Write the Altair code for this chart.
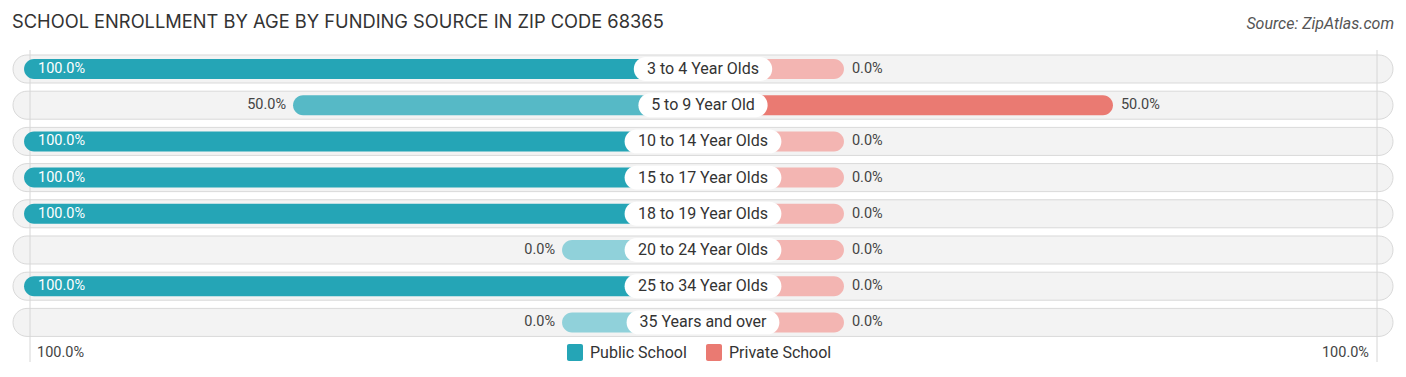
import altair as alt
import pandas as pd

# ---- data ----
ages = ["3 to 4 Year Olds", "5 to 9 Year Old", "10 to 14 Year Olds", "15 to 17 Year Olds",
        "18 to 19 Year Olds", "20 to 24 Year Olds", "25 to 34 Year Olds", "35 Years and over"]
public = [100.0, 50.0, 100.0, 100.0, 100.0, 0.0, 100.0, 0.0]
private = [0.0, 50.0, 0.0, 0.0, 0.0, 0.0, 0.0, 0.0]
legend_labels = ["Public School", "Private School"]
axis_label = "100.0%"
title_text = "SCHOOL ENROLLMENT BY AGE BY FUNDING SOURCE IN ZIP CODE 68365"
source_text = "Source: ZipAtlas.com"

# ---- layout constants ----
W, H = 1390, 361
K = 5.38          # px per percent
OFF = 26.2        # minimum bar stub (in percent units) hidden behind the label pill
XMAX = W / 2 / K
ROW_PX = 36.2
Y0 = -61 / ROW_PX
Y1 = Y0 + H / ROW_PX

PUB_COLORS = ["#90d1da", "#56b9c6", "#25a5b6"]
PRIV_COLORS = ["#f3b5b2", "#ea7a72", "#e0584f"]
FONT = "Roboto"


def pill_half(s):
    spaces = s.count(" ")
    w = 9.2 * (len(s) - spaces) + 4 * spaces + 12
    return w / 2 / K


df = pd.DataFrame({"age": ages, "pub": public, "priv": private})
df["row"] = range(len(ages))
df["ph"] = [pill_half(a) for a in ages]

xs = alt.Scale(domain=[-XMAX, XMAX], nice=False, zero=False)
ys = alt.Scale(domain=[Y0, Y1], nice=False, zero=False, reverse=True)

base = alt.Chart(df).transform_calculate(
    pub_end=f"-({OFF} + datum.pub)",
    priv_end=f"{OFF} + datum.priv",
    zero="0",
    bg0="datum.row - 0.387",
    bg1="datum.row + 0.387",
    b0="datum.row - 0.276",
    b1="datum.row + 0.276",
    p0="datum.row - 0.33",
    p1="datum.row + 0.33",
    pl="-datum.ph",
    pr="datum.ph",
    pub_in=f"datum.pub_end + {14 / K}",
    pub_out=f"datum.pub_end - {7 / K}",
    priv_out=f"datum.priv_end + {8 / K}",
    pub_lbl="format(datum.pub, '.1f') + '%'",
    priv_lbl="format(datum.priv, '.1f') + '%'",
)

bg = base.mark_bar(cornerRadius=14, fill="#f3f3f3", stroke="#d9d9d9", strokeWidth=1).encode(
    x=alt.value(5), x2=alt.value(1385),
    y=alt.Y("bg0:Q", scale=ys, axis=None), y2="bg1:Q",
)

vlines = alt.Chart(pd.DataFrame({"a": [0, 1]})).mark_rule(color="#d6d6d6", strokeWidth=1).encode(
    x=alt.X("a:Q", scale=alt.Scale(domain=[0, 1], range=[22, 1369]), axis=None),
    y=alt.value(42), y2=alt.value(354),
)

pub_bar = base.mark_bar(cornerRadius=10).encode(
    x=alt.X("pub_end:Q", scale=xs, axis=None), x2="zero:Q",
    y=alt.Y("b0:Q", scale=ys, axis=None), y2="b1:Q",
    color=alt.Color("pub:Q", scale=alt.Scale(domain=[0, 50, 100], range=PUB_COLORS), legend=None),
)

priv_bar = base.mark_bar(cornerRadius=10).encode(
    x=alt.X("zero:Q", scale=xs, axis=None), x2="priv_end:Q",
    y=alt.Y("b0:Q", scale=ys, axis=None), y2="b1:Q",
    fill=alt.Fill("priv:Q", scale=alt.Scale(domain=[0, 50, 100], range=PRIV_COLORS), legend=None),
)

pill = base.mark_bar(cornerRadius=12, fill="white").encode(
    x=alt.X("pl:Q", scale=xs, axis=None), x2="pr:Q",
    y=alt.Y("p0:Q", scale=ys, axis=None), y2="p1:Q",
)

age_txt = base.mark_text(font=FONT, fontSize=16, color="#333333", align="center", baseline="middle").encode(
    x=alt.X("zero:Q", scale=xs, axis=None),
    y=alt.Y("row:Q", scale=ys, axis=None),
    text="age:N",
)

pub_in_txt = base.transform_filter("datum.pub >= 90").mark_text(
    font=FONT, fontSize=14.5, color="white", align="left", baseline="middle").encode(
    x=alt.X("pub_in:Q", scale=xs, axis=None),
    y=alt.Y("row:Q", scale=ys, axis=None),
    text="pub_lbl:N",
)

pub_out_txt = base.transform_filter("datum.pub < 90").mark_text(
    font=FONT, fontSize=14.5, color="#444444", align="right", baseline="middle").encode(
    x=alt.X("pub_out:Q", scale=xs, axis=None),
    y=alt.Y("row:Q", scale=ys, axis=None),
    text="pub_lbl:N",
)

priv_txt = base.mark_text(font=FONT, fontSize=14.5, color="#444444", align="left", baseline="middle").encode(
    x=alt.X("priv_out:Q", scale=xs, axis=None),
    y=alt.Y("row:Q", scale=ys, axis=None),
    text="priv_lbl:N",
)

one = pd.DataFrame({"t": [0]})
title = alt.Chart(one).mark_text(font="Inter", fontSize=18.3, color="#333333", align="left",
                                 baseline="middle", text=title_text).encode(
    x=alt.value(4), y=alt.value(15))
source = alt.Chart(one).mark_text(font=FONT, fontSize=16, fontStyle="italic", color="#555555",
                                  align="right", baseline="middle", text=source_text).encode(
    x=alt.value(1386), y=alt.value(16))

axl = alt.Chart(one).mark_text(font=FONT, fontSize=14.5, color="#444444", align="left",
                               baseline="middle", text=axis_label).encode(x=alt.value(29), y=alt.value(345))
axr = alt.Chart(one).mark_text(font=FONT, fontSize=14.5, color="#444444", align="right",
                               baseline="middle", text=axis_label).encode(x=alt.value(1361), y=alt.value(345))

sw1 = alt.Chart(one).mark_rect(color=PUB_COLORS[2], cornerRadius=2).encode(
    x=alt.value(559), x2=alt.value(575), y=alt.value(336), y2=alt.value(353))
sw2 = alt.Chart(one).mark_rect(color=PRIV_COLORS[1], cornerRadius=2).encode(
    x=alt.value(698), x2=alt.value(714), y=alt.value(336), y2=alt.value(353))
lg1 = alt.Chart(one).mark_text(font=FONT, fontSize=16, color="#333333", align="left",
                               baseline="middle", text=legend_labels[0]).encode(x=alt.value(582), y=alt.value(345))
lg2 = alt.Chart(one).mark_text(font=FONT, fontSize=16, color="#333333", align="left",
                               baseline="middle", text=legend_labels[1]).encode(x=alt.value(721), y=alt.value(345))

chart = alt.layer(
    bg, vlines, pub_bar, priv_bar, pill, age_txt, pub_in_txt, pub_out_txt, priv_txt,
    title, source, axl, axr, sw1, sw2, lg1, lg2,
).resolve_scale(x="independent", color="independent", fill="independent").properties(
    width=W, height=H, padding=0, autosize=alt.AutoSizeParams(type="none"),
).configure_view(stroke=None)

chart.save("out.html", embed_options={"renderer": "svg", "actions": False})
